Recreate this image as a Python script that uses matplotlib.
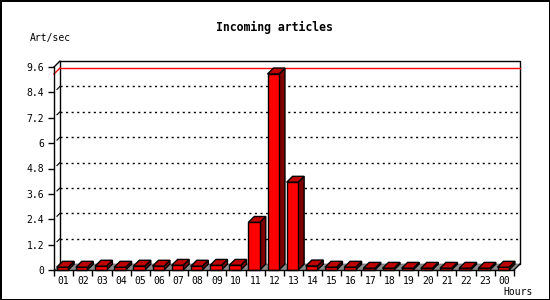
import matplotlib.pyplot as plt
from matplotlib.patches import Polygon, Rectangle

plt.rcParams['font.family'] = ['DejaVu Sans Mono']

# Incoming articles per hour
hours = ['01', '02', '03', '04', '05', '06', '07', '08', '09', '10', '11', '12',
         '13', '14', '15', '16', '17', '18', '19', '20', '21', '22', '23', '00']
rate = [0.13, 0.13, 0.18, 0.13, 0.18, 0.18, 0.22, 0.18, 0.22, 0.22, 2.25, 9.27,
        4.15, 0.19, 0.13, 0.13, 0.08, 0.08, 0.08, 0.08, 0.08, 0.08, 0.08, 0.13]
yticks = [0, 1.2, 2.4, 3.6, 4.8, 6, 7.2, 8.4, 9.6]
ymax = 9.6

# 3D depth offsets (data units)
dx, dy = 0.31, 0.28
bar_left, bar_w = 0.14, 0.6

fig = plt.figure(figsize=(5.5, 3), dpi=100)
fig.patch.set_edgecolor('black')
fig.patch.set_linewidth(2)
ax = fig.add_axes([54 / 550, 30 / 300, 460 / 550, 203 / 300])
ax.set_xlim(0, len(hours))
ax.set_ylim(0, ymax)
for s in ['top', 'right']:
    ax.spines[s].set_visible(False)
for s in ['left', 'bottom']:
    ax.spines[s].set_linewidth(1)
    ax.spines[s].set_zorder(5)

n = len(hours)
# back wall
ax.add_patch(Rectangle((dx, dy), n, ymax, facecolor='white', edgecolor='black',
                       lw=1, clip_on=False, zorder=1))
# floor
ax.add_patch(Polygon([(0, 0), (n, 0), (n + dx, dy), (dx, dy)], closed=True,
                     facecolor='#8c8c8c', edgecolor='none', clip_on=False, zorder=1.5))
ax.plot([n, n + dx], [0, dy], color='black', lw=1, clip_on=False, zorder=1.6)
ax.plot([0, dx], [ymax, ymax + dy], color='black', lw=1, clip_on=False, zorder=1.6)

# grid lines on back wall + small depth ticks
for v in yticks[1:-1]:
    ax.plot([dx, n + dx], [v + dy, v + dy], color='black', lw=1,
            linestyle=(0, (1.5, 2.5)), clip_on=False, zorder=2)
    ax.plot([dx * 0.5, dx], [v + dy * 0.5, v + dy], color='black', lw=0.8,
            clip_on=False, zorder=2)

# max line
vmax = max(rate)
ax.plot([dx, n + dx], [vmax + dy, vmax + dy], color='red', lw=1, clip_on=False, zorder=2)
ax.plot([0, dx], [vmax, vmax + dy], color='red', lw=1, clip_on=False, zorder=2)

# 3D bars
for i, v in enumerate(rate):
    x0 = i + bar_left
    x1 = x0 + bar_w
    front = Polygon([(x0, 0), (x1, 0), (x1, v), (x0, v)], closed=True,
                    facecolor='#ff0000', edgecolor='black', lw=1, zorder=3)
    top = Polygon([(x0, v), (x1, v), (x1 + dx, v + dy), (x0 + dx, v + dy)], closed=True,
                  facecolor='#c00000', edgecolor='black', lw=1, zorder=3)
    side = Polygon([(x1, 0), (x1 + dx, dy), (x1 + dx, v + dy), (x1, v)], closed=True,
                   facecolor='#800000', edgecolor='black', lw=1, zorder=3)
    for p in (side, top, front):
        p.set_clip_on(False)
        ax.add_patch(p)

# ticks
ax.set_yticks(yticks)
ax.set_yticklabels(['%g' % t for t in yticks])
ax.tick_params(axis='y', length=4, width=1, pad=3, labelsize=7)
ax.set_xticks(range(n + 1))
ax.set_xticklabels([])
ax.set_xticks([i + 0.5 for i in range(n)], minor=True)
ax.set_xticklabels(hours, minor=True)
ax.tick_params(axis='x', which='major', length=4, width=1)
ax.tick_params(axis='x', which='minor', length=0, pad=4, labelsize=7)

fig.text(274 / 550, 1 - 27.5 / 300, 'Incoming articles', ha='center', va='center',
         fontsize=8.3, fontweight='bold')
fig.text(30 / 550, 1 - 37.5 / 300, 'Art/sec', ha='left', va='center', fontsize=7)
fig.text(533 / 550, 1 - 292 / 300, 'Hours', ha='right', va='center', fontsize=7)

fig.savefig('out.png', dpi=100)
